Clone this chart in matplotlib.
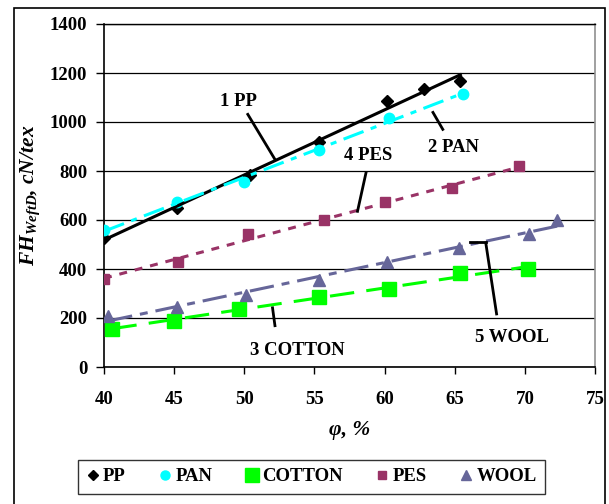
import numpy as np
import matplotlib
matplotlib.use("Agg")
import matplotlib.pyplot as plt
from matplotlib.lines import Line2D
from matplotlib.patches import Rectangle

plt.rcParams["font.family"] = ["Liberation Serif", "DejaVu Serif"]
plt.rcParams["font.weight"] = "bold"
plt.rcParams["mathtext.fontset"] = "custom"
plt.rcParams["mathtext.it"] = "Liberation Serif:italic:bold"
plt.rcParams["mathtext.rm"] = "Liberation Serif:bold"
plt.rcParams["mathtext.bf"] = "Liberation Serif:bold"

# Measured force values vs. relative humidity phi (%)
pp_x = [40.0, 45.2, 50.4, 55.3, 60.2, 62.8, 65.4]
pp_y = [525, 650, 785, 917, 1086, 1135, 1168]

pan_x = [40.0, 45.2, 50.0, 55.3, 60.3, 65.6]
pan_y = [559, 675, 756, 884, 1018, 1114]

cotton_x = [40.6, 45.0, 49.6, 55.3, 60.3, 65.4, 70.2]
cotton_y = [157, 188, 238, 285, 319, 383, 400]

pes_x = [40.0, 45.3, 50.3, 55.7, 60.0, 64.8, 69.6]
pes_y = [360, 430, 542, 600, 675, 730, 819]

wool_x = [40.3, 45.2, 50.1, 55.3, 60.2, 65.3, 70.3, 72.3]
wool_y = [207, 245, 295, 356, 427, 484, 542, 599]

x_ticks = [40, 45, 50, 55, 60, 65, 70, 75]
y_ticks = [0, 200, 400, 600, 800, 1000, 1200, 1400]

FS = 13.5

fig = plt.figure(figsize=(6.09, 5.04), dpi=100)
ax = fig.add_axes([104 / 609, 1 - 367 / 504, (595 - 104) / 609, (367 - 24) / 504])

series = [
    dict(x=pp_x, y=pp_y, name="PP", color="black", marker="D", ms=6.5, lms=5.5,
         dashes=None),
    dict(x=pan_x, y=pan_y, name="PAN", color="#00FFFF", marker="o", ms=7.5, lms=6.5,
         dashes=(7, 2.5, 2, 2.5)),
    dict(x=cotton_x, y=cotton_y, name="COTTON", color="#00FF00", marker="s", ms=10, lms=10,
         dashes=(8, 4)),
    dict(x=pes_x, y=pes_y, name="PES", color="#993366", marker="s", ms=7, lms=6,
         dashes=(2.6, 2.6)),
    dict(x=wool_x, y=wool_y, name="WOOL", color="#666699", marker="^", ms=8, lms=7,
         dashes=(8, 2.6, 2.6, 2.6)),
]

for s in series:
    xs = np.asarray(s["x"], dtype=float)
    ys = np.asarray(s["y"], dtype=float)
    ax.plot(xs, ys, linestyle="none", marker=s["marker"], ms=s["ms"],
            color=s["color"], zorder=3)
    # linear trend over the measured range
    k, b = np.polyfit(xs, ys, 1)
    tx = np.array([xs.min(), xs.max()])
    line, = ax.plot(tx, k * tx + b, color=s["color"], lw=2.2, zorder=4)
    if s["dashes"] is not None:
        line.set_dashes(s["dashes"])

# Curve labels with leader lines: (text, text pos, leader start, leader end)
curve_labels = [
    ("1 PP", (49.6, 1083), (50.2, 1036), (52.2, 846)),
    ("2 PAN", (64.9, 894), (64.2, 965), (63.4, 1044)),
    ("4 PES", (58.8, 862), (58.7, 799), (58.05, 630)),
    ("3 COTTON", (53.8, 66), (52.2, 163), (52.0, 247)),
    ("5 WOOL", (69.1, 120), (68.0, 211), (67.2, 512)),
]
for text, tpos, p0, p1 in curve_labels:
    ax.text(tpos[0], tpos[1], text, ha="center", va="center",
            fontsize=FS, fontweight="bold", zorder=6)
    ax.plot([p0[0], p1[0]], [p0[1], p1[1]], color="black", lw=2, zorder=5,
            solid_capstyle="butt")
ax.plot([66.1, 67.2], [512, 512], color="black", lw=2, zorder=5)

ax.set_xlim(40, 75)
ax.set_ylim(0, 1400)
ax.set_xticks(x_ticks)
ax.set_yticks(y_ticks)
ax.set_xticklabels([str(v) for v in x_ticks])
ax.set_yticklabels([str(v) for v in y_ticks])
ax.tick_params(axis="x", direction="out", length=5, width=1, pad=12,
               labelsize=FS)
ax.tick_params(axis="y", direction="out", length=6, width=1, pad=6,
               labelsize=FS)
for lab in ax.get_xticklabels() + ax.get_yticklabels():
    lab.set_fontweight("bold")

ax.yaxis.grid(True, color="black", lw=0.9)
ax.set_axisbelow(True)
ax.spines["left"].set_linewidth(1.2)
ax.spines["bottom"].set_linewidth(1.2)
ax.spines["right"].set_color("#909090")
ax.spines["right"].set_linewidth(1.2)
ax.spines["top"].set_linewidth(1.0)

ax.set_ylabel(r"$FH_{WeftD}$, cN/tex", fontsize=15.5, fontweight="bold",
              fontstyle="italic", labelpad=6)
ax.set_xlabel("φ, %", fontsize=15.5, fontweight="bold", fontstyle="italic",
              labelpad=9)

handles = [Line2D([], [], linestyle="none", marker=s["marker"],
                  ms=s["lms"], color=s["color"], label=s["name"])
           for s in series]
leg = fig.legend(handles=handles, loc="center",
                 bbox_to_anchor=(311.5 / 609, 1 - 476.5 / 504), ncol=5,
                 frameon=True, fancybox=False, edgecolor="black",
                 prop={"weight": "bold", "size": FS},
                 handlelength=0.7, handletextpad=0.2, columnspacing=1.75,
                 borderpad=0.45)
leg.get_frame().set_linewidth(1.0)

# outer frame of the chart area
fig.patches.append(Rectangle((14 / 609, -0.05), (605 - 14) / 609, 1 - 8 / 504 + 0.05,
                             transform=fig.transFigure, fill=False,
                             edgecolor="black", lw=1.2))

fig.savefig("out.png", dpi=100)
